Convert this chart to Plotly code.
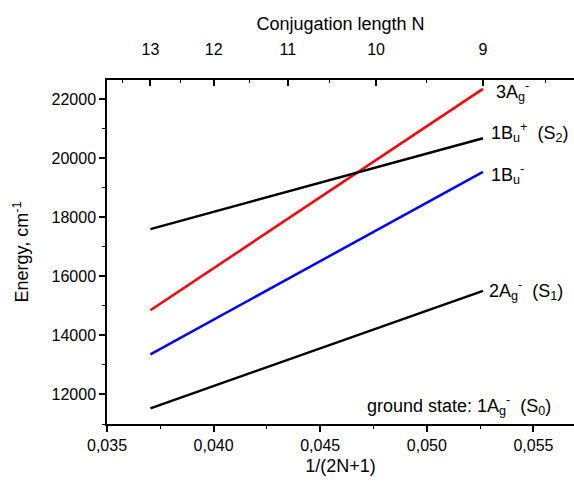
import plotly.graph_objects as go

# ---- data ----
N_ends = [13, 9]
x_ends = [1 / (2 * n + 1) for n in N_ends]
E_3Ag = [14850, 22350]
E_1Bu_plus = [17600, 20680]
E_1Bu_minus = [13360, 19540]
E_2Ag = [11530, 15510]

x_tickvals = [0.035, 0.040, 0.045, 0.050, 0.055]
x_ticktext = ["0,035", "0,040", "0,045", "0,050", "0,055"]
y_tickvals = [12000, 14000, 16000, 18000, 20000, 22000]
y_ticktext = ["12000", "14000", "16000", "18000", "20000", "22000"]
N_top = [13, 12, 11, 10, 9]
N_top_minor = [13.5, 12.5, 11.5, 10.5, 9.5, 8.5]

FONT = "Liberation Sans, Arial, sans-serif"
XR = [0.035, 0.0569]
YR = [11000, 22650]

fig = go.Figure()
series = [
    (E_3Ag, "red"),
    (E_1Bu_plus, "black"),
    (E_1Bu_minus, "blue"),
    (E_2Ag, "black"),
]
for ys, c in series:
    fig.add_trace(go.Scatter(x=x_ends, y=ys, mode="lines",
                             line=dict(color=c, width=2.5), showlegend=False))
# dummy trace to activate top axis
fig.add_trace(go.Scatter(x=[x_ends[0]], y=[E_2Ag[0]], xaxis="x2", mode="markers",
                         marker=dict(opacity=0), showlegend=False, hoverinfo="skip"))

labels = [
    (x_ends[1], E_3Ag[1], "3A<sub>g</sub><sup>-</sup>", 11, -3),
    (x_ends[1], E_1Bu_plus[1], "1B<sub>u</sub><sup>+</sup>  (S<sub>2</sub>)", 6, 6),
    (x_ends[1], E_1Bu_minus[1], "1B<sub>u</sub><sup>-</sup>", 6, -3),
    (x_ends[1], E_2Ag[1], "2A<sub>g</sub><sup>-</sup>  (S<sub>1</sub>)", 4, 0),
]
for xv, yv, txt, dx, dy in labels:
    fig.add_annotation(x=xv, y=yv, text=txt, showarrow=False, xanchor="left",
                       xshift=dx, yshift=dy, font=dict(family=FONT, size=18, color="black"))
fig.add_annotation(x=0.0559, y=11150, text="ground state: 1A<sub>g</sub><sup>-</sup>  (S<sub>0</sub>)",
                   showarrow=False, xanchor="right", yanchor="bottom",
                   font=dict(family=FONT, size=18, color="black"))

fig.update_layout(
    width=574, height=482,
    margin=dict(l=107, r=0, t=80, b=58),
    plot_bgcolor="white", paper_bgcolor="white",
    font=dict(family=FONT, size=16, color="black"),
    xaxis=dict(range=XR, showgrid=False, zeroline=False,
               showline=True, linecolor="black", linewidth=1.5, mirror=False,
               tickmode="array", tickvals=x_tickvals, ticktext=x_ticktext,
               ticks="outside", ticklen=6, tickwidth=1.5, tickcolor="black",
               minor=dict(tickmode="linear", tick0=0.0375, dtick=0.005, ticks="outside",
                          ticklen=3, tickwidth=1, tickcolor="black"),
               title=dict(text="1/(2N+1)", font=dict(size=18), standoff=6),
               tickfont=dict(size=16)),
    xaxis2=dict(range=XR, overlaying="x", side="top", showgrid=False, zeroline=False,
                showline=True, linecolor="black", linewidth=1.5,
                tickmode="array", tickvals=[1 / (2 * n + 1) for n in N_top],
                ticktext=[str(n) for n in N_top],
                ticks="inside", ticklen=6, tickwidth=1.5, tickcolor="black",
                ticklabelstandoff=17,
                minor=dict(tickmode="array", tickvals=[1 / (2 * n + 1) for n in N_top_minor],
                           ticks="inside", ticklen=3, tickwidth=1, tickcolor="black"),
                title=dict(text="Conjugation length N", font=dict(size=18), standoff=6),
                tickfont=dict(size=16)),
    yaxis=dict(range=YR, showgrid=False, zeroline=False,
               showline=True, linecolor="black", linewidth=1.5,
               tickmode="array", tickvals=y_tickvals, ticktext=y_ticktext,
               ticks="outside", ticklen=6, tickwidth=1.5, tickcolor="black",
               minor=dict(tickmode="linear", tick0=11000, dtick=2000, ticks="outside",
                          ticklen=3, tickwidth=1, tickcolor="black"),
               title=dict(text="Energy, cm<sup>-1</sup>", font=dict(size=18), standoff=18),
               tickfont=dict(size=16)),
)

fig.write_html("out.html")
